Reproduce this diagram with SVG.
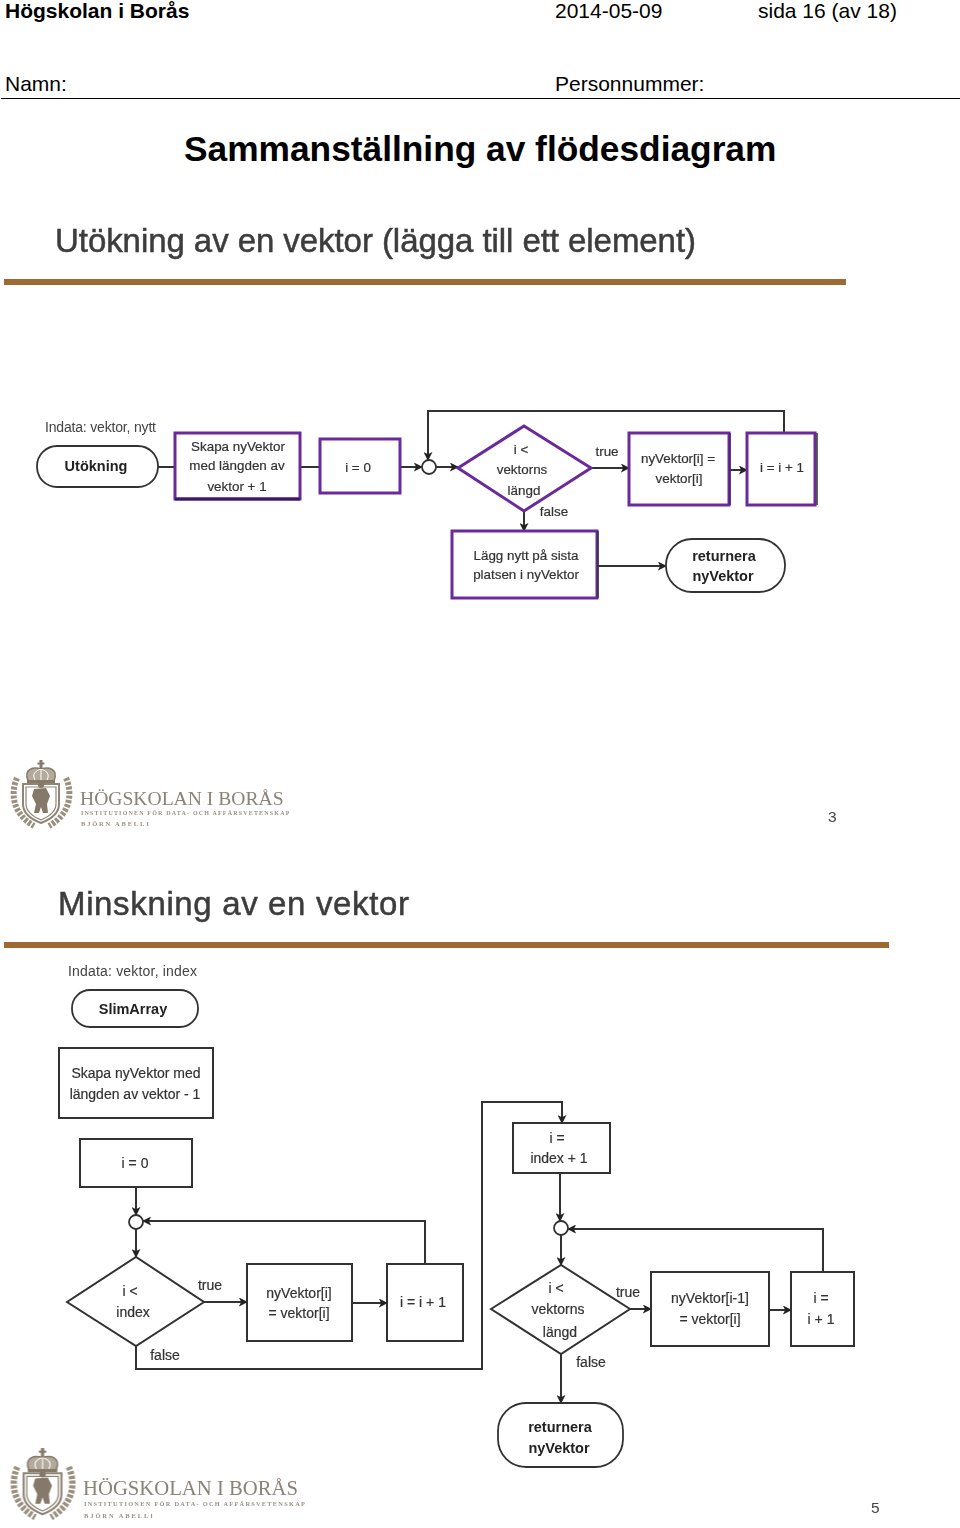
<svg xmlns="http://www.w3.org/2000/svg" width="960" height="1528" viewBox="0 0 960 1528">
<style>
text{font-family:"Liberation Sans",Arial,sans-serif;fill:#000}
.h{font-size:21px}
.b{font-weight:bold}
.t{font-size:35.300px;font-weight:bold}
.sub{font-size:33px;fill:#3c3c3c;stroke:#3c3c3c;stroke-width:.5}
.l{font-size:14px;fill:#333;text-anchor:middle;stroke:#333;stroke-width:.2}
.n{font-size:13.400px;fill:#333;text-anchor:middle;stroke:#333;stroke-width:.2}
.lb{font-size:14.500px;fill:#222;font-weight:bold;text-anchor:middle}
.s{font-size:14px;fill:#444}
.p{fill:#fff;stroke:#6a2c9c;stroke-width:3}
.k{fill:#fff;stroke:#333;stroke-width:2}
.r{fill:#fff;stroke:#333;stroke-width:1.800}
.c{fill:none;stroke:#333;stroke-width:2}
.bar{fill:#9c6a32}
.lg{font-family:"Liberation Serif",serif;fill:#8b8378}
.lgs{font-family:"Liberation Serif",serif;fill:#9a9288;font-weight:bold}
.m{fill:#85796a}
</style>
<defs>
<marker id="a" viewBox="0 0 10 10" refX="9" refY="5" markerWidth="9" markerHeight="9" markerUnits="userSpaceOnUse" orient="auto"><path d="M0 0L10 5L0 10L2.500 5z" fill="#222"/></marker>
<filter id="blur" x="-2%" y="-2%" width="104%" height="104%"><feGaussianBlur stdDeviation="0.6"/></filter>
<g id="crest">
<path fill="none" stroke="#9a907f" stroke-width="6" stroke-dasharray="3 1.500" d="M7 18C0 34 3 54 24 66"/>
<path fill="none" stroke="#9a907f" stroke-width="6" stroke-dasharray="3 1.500" d="M56 18C63 34 60 54 39 66"/>
<path fill="#fff" stroke="#8f8577" stroke-width="2" d="M13 24H49V44C49 54 39 60 31 63C23 60 13 54 13 44z"/>
<path fill="#fff" stroke="#8f8577" stroke-width="1.200" d="M16 27H46V44C46 52 38 57 31 60C24 57 16 52 16 44z"/>
<path fill="#b3aa9c" stroke="#85796a" stroke-width="1.500" d="M18 21C13 8 24 7 31 9C38 7 49 8 44 21z"/>
<path fill="none" stroke="#fff" stroke-width="1" d="M25 20C22 14 25 11 31 9C37 11 40 14 37 20M31 9V20"/>
<rect class="m" x="17" y="20" width="28" height="3"/>
<rect class="m" x="29.500" y="0" width="3" height="9"/>
<rect class="m" x="27.500" y="2.500" width="7" height="2"/>
<circle class="m" cx="31" cy="25" r="3"/>
<path class="m" d="M24 29L36 28L40 36L37 44L38 53H33L31 47L29 53H24L26 44L22 36z"/>
</g>
</defs>
<rect width="960" height="1528" fill="#fff"/>
<g id="header">
<text class="h b" x="5" y="18">Högskolan i Borås</text>
<text class="h" x="555" y="18">2014-05-09</text>
<text class="h" x="758" y="18">sida 16 (av 18)</text>
<text class="h" x="5" y="91">Namn:</text>
<text class="h" x="555" y="91">Personnummer:</text>
<line x1="1" y1="98.500" x2="960" y2="98.500" stroke="#000" stroke-width="1"/>
<text class="t" x="184" y="161">Sammanställning av flödesdiagram</text>
</g>
<g filter="url(#blur)">
<text class="sub" x="55" y="252" textLength="641">Utökning av en vektor (lägga till ett element)</text>
<rect class="bar" x="4" y="279" width="842" height="6"/>
<g id="connectors-1">
<path class="c" d="M158 467H175"/>
<path class="c" d="M300 467H320"/>
<path class="c" marker-end="url(#a)" d="M400 467H422"/>
<path class="c" marker-end="url(#a)" d="M436 467H458"/>
<path class="c" marker-end="url(#a)" d="M591 468H629"/>
<path class="c" marker-end="url(#a)" d="M729 470H747"/>
<path class="c" marker-end="url(#a)" d="M784 433V411H428V460"/>
<path class="c" marker-end="url(#a)" d="M524 511V531"/>
<path class="c" marker-end="url(#a)" d="M597 566H666"/>
</g>
<g id="n-indata1"><text class="s" x="45" y="432" textLength="111">Indata: vektor, nytt</text></g>
<g id="n-utokning"><rect class="r" x="37" y="446" width="121" height="41" rx="20"/><text class="lb" x="96" y="471">Utökning</text></g>
<g id="n-skapa1"><rect class="p" x="175" y="433" width="125" height="66"/><path d="M175 499H300" stroke="#3e1466" stroke-width="3"/><text class="n" x="238" y="451">Skapa nyVektor</text><text class="n" x="237" y="470">med längden av</text><text class="n" x="237" y="491">vektor + 1</text></g>
<g id="n-i0-1"><rect class="p" x="320" y="439" width="80" height="54"/><text class="n" x="358" y="472">i = 0</text></g>
<g id="n-junction1"><circle class="r" cx="429" cy="467" r="7"/></g>
<g id="n-dec1"><path class="p" d="M458 468L524 426L591 468L524 511z"/><text class="n" x="521" y="454">i &lt;</text><text class="n" x="522" y="474">vektorns</text><text class="n" x="524" y="495">längd</text></g>
<g id="n-copy1"><rect class="p" x="629" y="433" width="100" height="72"/><path d="M730 433V505" stroke="#4a1f70" stroke-width="1.500"/><text class="n" x="678" y="463">nyVektor[i] =</text><text class="n" x="679" y="483">vektor[i]</text></g>
<g id="n-inc1"><rect class="p" x="747" y="433" width="68" height="72"/><path d="M817 433V505" stroke="#333" stroke-width="1.500"/><text class="n" x="782" y="472">i = i + 1</text></g>
<g id="n-lagg"><rect class="p" x="452" y="531" width="145" height="67"/><path d="M598 531V598" stroke="#333" stroke-width="1.500"/><text class="n" x="526" y="560">Lägg nytt på sista</text><text class="n" x="526" y="579">platsen i nyVektor</text></g>
<g id="n-ret1"><rect class="r" x="666" y="539" width="119" height="53" rx="26"/><text class="lb" x="724" y="561">returnera</text><text class="lb" x="723" y="581">nyVektor</text></g>
<text class="n" x="607" y="456">true</text>
<text class="n" x="554" y="516">false</text>
<g id="logo1">
<use href="#crest" transform="translate(10 760)"/>
<text class="lg" x="80" y="805" font-size="19.600">HÖGSKOLAN I BORÅS</text>
<text class="lgs" x="81" y="815" font-size="6" letter-spacing="1.180">INSTITUTIONEN FÖR DATA- OCH AFFÄRSVETENSKAP</text>
<text class="lgs" x="81" y="826" font-size="6.500" letter-spacing="1.800">BJÖRN ABELLI</text>
</g>
<text x="828" y="822" font-size="15.500" style="fill:#444">3</text>
<text class="sub" x="58" y="915" textLength="351">Minskning av en vektor</text>
<rect class="bar" x="4" y="942" width="885" height="6"/>
<g id="connectors-2">
<path class="c" marker-end="url(#a)" d="M136 1187V1215"/>
<path class="c" marker-end="url(#a)" d="M136 1229V1257"/>
<path class="c" marker-end="url(#a)" d="M204 1302H247"/>
<path class="c" marker-end="url(#a)" d="M352 1303H387"/>
<path class="c" marker-end="url(#a)" d="M425 1264V1221H143"/>
<path class="c" marker-end="url(#a)" d="M136 1346V1369H482V1102H562V1123"/>
<path class="c" marker-end="url(#a)" d="M560 1173V1221"/>
<path class="c" marker-end="url(#a)" d="M561 1235V1265"/>
<path class="c" marker-end="url(#a)" d="M630 1309H651"/>
<path class="c" marker-end="url(#a)" d="M769 1310H791"/>
<path class="c" marker-end="url(#a)" d="M823 1272V1229H568"/>
<path class="c" marker-end="url(#a)" d="M561 1354V1403"/>
</g>
<g id="n-indata2"><text class="s" x="68" y="976" textLength="129">Indata: vektor, index</text></g>
<g id="n-slim"><rect class="r" x="72" y="990" width="126" height="37" rx="18"/><text class="lb" x="133" y="1014">SlimArray</text></g>
<g id="n-skapa2"><rect class="k" x="59" y="1048" width="154" height="70"/><text class="l" x="136" y="1078">Skapa nyVektor med</text><text class="l" x="135" y="1099">längden av vektor - 1</text></g>
<g id="n-i0-2"><rect class="k" x="80" y="1139" width="112" height="48"/><text class="l" x="135" y="1168">i = 0</text></g>
<g id="n-junction2"><circle class="r" cx="136" cy="1222" r="7"/></g>
<g id="n-dec2"><path class="k" d="M67 1302L136 1257L204 1302L136 1346z"/><text class="l" x="130" y="1296">i &lt;</text><text class="l" x="133" y="1317">index</text></g>
<g id="n-copy2"><rect class="k" x="247" y="1264" width="105" height="77"/><text class="l" x="299" y="1298">nyVektor[i]</text><text class="l" x="299" y="1318">= vektor[i]</text></g>
<g id="n-inc2"><rect class="k" x="387" y="1264" width="76" height="77"/><text class="l" x="423" y="1307">i = i + 1</text></g>
<g id="n-start2"><rect class="k" x="513" y="1123" width="97" height="50"/><text class="l" x="557" y="1143">i =</text><text class="l" x="559" y="1163">index + 1</text></g>
<g id="n-junction3"><circle class="r" cx="561" cy="1228" r="7"/></g>
<g id="n-dec3"><path class="k" d="M491 1309L561 1265L630 1309L561 1354z"/><text class="l" x="556" y="1293">i &lt;</text><text class="l" x="558" y="1314">vektorns</text><text class="l" x="560" y="1337">längd</text></g>
<g id="n-copy3"><rect class="k" x="651" y="1272" width="118" height="74"/><text class="l" x="710" y="1303">nyVektor[i-1]</text><text class="l" x="710" y="1324">= vektor[i]</text></g>
<g id="n-inc3"><rect class="k" x="791" y="1272" width="63" height="74"/><text class="l" x="821" y="1303">i =</text><text class="l" x="821" y="1324">i + 1</text></g>
<g id="n-ret2"><rect class="r" x="498" y="1403" width="125" height="64" rx="28"/><text class="lb" x="560" y="1432">returnera</text><text class="lb" x="559" y="1453">nyVektor</text></g>
<text class="l" x="210" y="1290">true</text>
<text class="l" x="165" y="1360">false</text>
<text class="l" x="628" y="1297">true</text>
<text class="l" x="591" y="1367">false</text>
<g id="logo2">
<use href="#crest" transform="translate(10 1448) scale(1.050)"/>
<text class="lg" x="83" y="1495" font-size="20.700">HÖGSKOLAN I BORÅS</text>
<text class="lgs" x="84" y="1506" font-size="6.300" letter-spacing="1.290">INSTITUTIONEN FÖR DATA- OCH AFFÄRSVETENSKAP</text>
<text class="lgs" x="84" y="1518" font-size="6.500" letter-spacing="1.900">BJÖRN ABELLI</text>
</g>
<text x="871" y="1513" font-size="15.500" style="fill:#444">5</text>
</g>
</svg>
